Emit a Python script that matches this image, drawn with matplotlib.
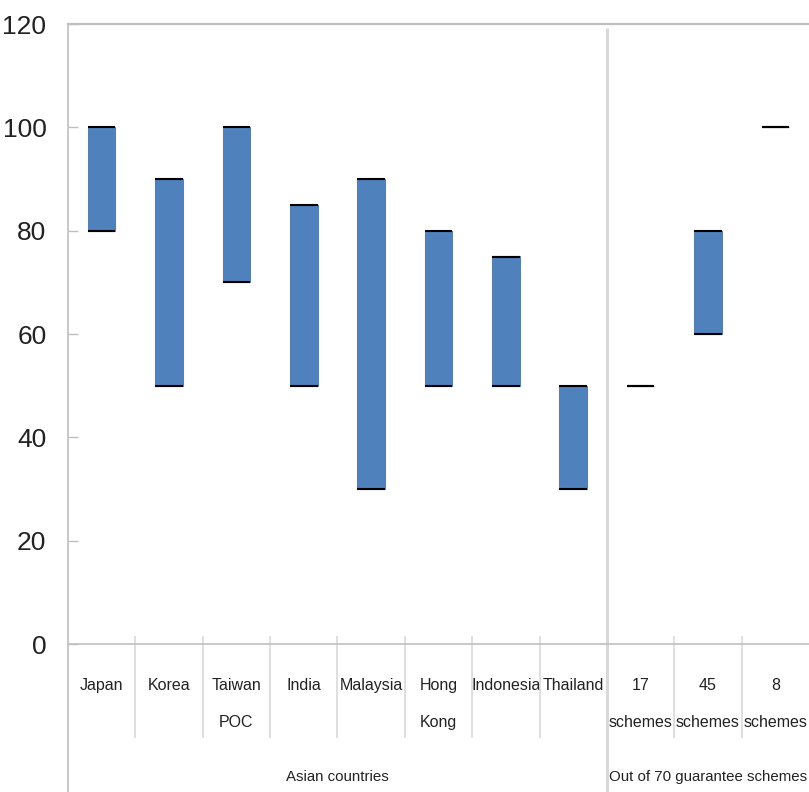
import numpy as np
import matplotlib
matplotlib.use("Agg")
import matplotlib.pyplot as plt

plt.rcParams['font.family'] = ['Liberation Sans', 'DejaVu Sans']

# high / low ranges
categories = ["Japan", "Korea", "Taiwan\nPOC", "India", "Malaysia", "Hong\nKong",
              "Indonesia", "Thailand", "17\nschemes", "45\nschemes", "8\nschemes"]
low = [80, 50, 70, 50, 30, 50, 50, 30, 50, 60, 100]
high = [100, 90, 100, 85, 90, 80, 75, 50, 50, 80, 100]
groups = ["Asian countries", "Out of 70 guarantee schemes"]
group_sizes = [8, 3]
yticks = [0, 20, 40, 60, 80, 100, 120]

grid_col = '#BFBFBF'
sep_col = '#D9D9D9'
txt_col = '#222222'

fig = plt.figure(figsize=(8.09, 7.92), dpi=100)
ax = fig.add_axes([68/809, 148/792, 741/809, 620/792])

x = np.arange(len(categories))
low = np.array(low)
high = np.array(high)
w = 0.41

ax.bar(x, high - low, bottom=low, width=w, color='#4F81BD',
       edgecolor='#5A7FA8', linewidth=0.8, zorder=2)
ax.hlines(high, x - w/2, x + w/2, colors='black', linewidth=1.5, zorder=3)
ax.hlines(low, x - w/2, x + w/2, colors='black', linewidth=1.5, zorder=3)

ax.set_xlim(-0.5, len(categories) - 0.5)
ax.set_ylim(0, 120)
ax.set_yticks(yticks)
ax.set_yticklabels([str(v) for v in yticks], fontsize=19)
ax.tick_params(axis='y', direction='in', length=7, width=1, color=grid_col,
               pad=15.5, labelcolor=txt_col)

ax.set_xticks(x)
ax.set_xticklabels(categories, fontsize=11.5, color=txt_col, linespacing=2.8)
ax.tick_params(axis='x', length=0, pad=24.5)

ax.spines['right'].set_visible(False)
for s in ['left', 'bottom', 'top']:
    ax.spines[s].set_color(grid_col)
    ax.spines[s].set_linewidth(1.2)
ax.spines['top'].set_linewidth(1.6)

# category separators below the axis
tr = ax.get_xaxis_transform()
bounds = np.arange(len(categories) + 1) - 0.5
ax.vlines(bounds[1:-1], -0.1516, 0.0129, colors=sep_col, linewidth=1.2,
          transform=tr, clip_on=False)

# group separators and group labels
edges = np.concatenate([[0], np.cumsum(group_sizes)]) - 0.5
ax.vlines([edges[0]], -0.24, 0, colors=grid_col, linewidth=1.2,
          transform=tr, clip_on=False)
ax.vlines(edges[1:-1], -0.24, 0.9935, colors=sep_col, linewidth=2.2,
          transform=tr, clip_on=False, zorder=1)
for g, a, b in zip(groups, edges[:-1], edges[1:]):
    ax.text((a + b) / 2, -0.215, g, transform=tr, ha='center', va='center',
            fontsize=10.8, color=txt_col)

fig.savefig("out.png", dpi=100)
